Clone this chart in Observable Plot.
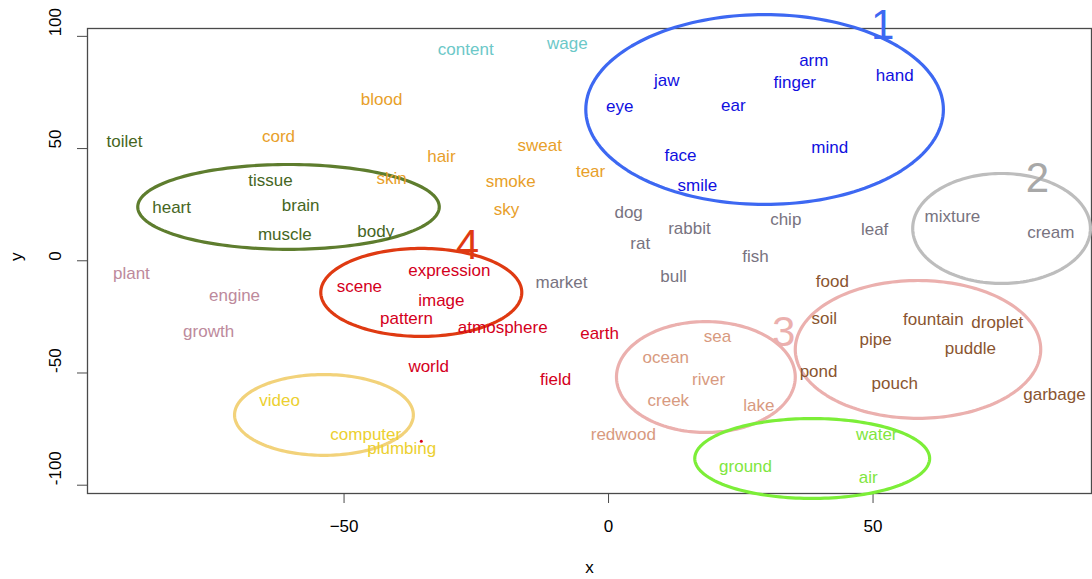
<!DOCTYPE html>
<html>
<head>
<meta charset="utf-8">
<script src="https://cdn.jsdelivr.net/npm/d3@7"></script>
<script src="https://cdn.jsdelivr.net/npm/@observablehq/plot@0.6"></script>
<style>
  html, body { margin: 0; padding: 0; background: #fff; overflow: hidden; }
  #chart svg { display: block; }
</style>
</head>
<body>
<div id="chart"></div>
<script>
// ---- data (word embedding coordinates) ----
const words = ["eye","jaw","ear","arm","finger","hand","face","mind","smile",
  "dog","rabbit","rat","chip","leaf","fish","bull","market","mixture","cream",
  "blood","cord","hair","skin","sweat","smoke","tear","sky",
  "content","wage",
  "toilet","tissue","heart","brain","muscle","body",
  "plant","engine","growth",
  "scene","expression","image","pattern","atmosphere","earth","world","field",
  "video","computer","plumbing",
  "sea","ocean","river","creek","lake","redwood",
  "food","soil","fountain","droplet","pipe","puddle","pond","pouch","garbage",
  "water","ground","air"];
const xs = [2.1,11.0,23.6,38.8,35.2,54.1,13.6,41.8,16.8,
  3.8,15.3,6.0,33.5,50.3,27.8,12.3,-8.9,65.0,83.6,
  -42.9,-62.4,-31.6,-41.0,-13.0,-18.5,-3.4,-19.3,
  -27.0,-7.8,
  -91.5,-63.9,-82.6,-58.2,-61.2,-44.0,
  -90.2,-70.7,-75.6,
  -47.1,-30.1,-31.6,-38.2,-20.0,-1.7,-34.0,-10.0,
  -62.2,-45.9,-39.1,
  20.6,10.8,18.9,11.3,28.4,2.8,
  42.3,40.8,61.4,73.5,50.5,68.4,39.7,54.1,84.3,
  50.7,25.9,49.1];
const ys = [68.7,80.3,69.2,89.2,79.4,82.5,46.9,50.5,33.5,
  21.5,14.4,7.7,18.4,13.9,1.9,-7.0,-9.6,19.7,12.6,
  71.8,55.4,46.4,36.6,51.4,35.4,39.8,22.9,
  94.1,96.6,
  53.1,35.8,23.7,24.6,11.7,13.1,
  -5.7,-15.5,-31.5,
  -11.4,-4.3,-17.7,-25.7,-29.7,-32.4,-47.1,-52.9,
  -62.2,-77.3,-83.6,
  -33.7,-43.1,-52.9,-62.2,-64.4,-77.3,
  -9.2,-25.7,-26.1,-27.5,-35.1,-39.1,-49.3,-54.7,-59.6,
  -77.4,-91.6,-96.5];
const groups = ["body1","body1","body1","body1","body1","body1","body1","body1","body1",
  "animal","animal","animal","animal","animal","animal","animal","animal","animal","animal",
  "fluid","fluid","fluid","fluid","fluid","fluid","fluid","fluid",
  "pay","pay",
  "organ","organ","organ","organ","organ","organ",
  "plant","plant","plant",
  "scene","scene","scene","scene","scene","scene","scene","scene",
  "tech","tech","tech",
  "water1","water1","water1","water1","water1","water1",
  "water2","water2","water2","water2","water2","water2","water2","water2","water2",
  "air","air","air"];
const groupNames  = ["body1","animal","fluid","pay","organ","plant","scene","tech","water1","water2","air"];
const groupColors = ["#1010e0","#78737f","#e8a02a","#6cc8c8","#46661e","#bd8a9c","#d4001c","#ecd030","#d89a80","#8a5530","#7fe640"];

// cluster outlines (centre x, centre y, radius x, radius y in data units)
const ellCx = [29.5, 74.3, -60.5, -35.4, -53.8, 18.4, 58.5, 38.5];
const ellCy = [67.4, 14.4, 24.0, -14.1, -68.7, -51.8, -39.5, -88.1];
const ellRx = [33.8, 16.8, 28.5, 19.0, 16.9, 16.9, 23.2, 22.2];
const ellRy = [42.3, 24.5, 18.9, 19.6, 18.0, 24.7, 30.7, 17.8];
const ellColors = ["#3d68f2","#bdbdbd","#5e7d2e","#df3a12","#f2d27a","#ebb0ae","#ebb0ae","#7cee38"];

// cluster numbers
const numLabels = ["1","2","3","4"];
const numX = [51.8, 81.1, 33.1, -26.7];
const numY = [104.8, 36.7, -31.9, 6.8];
const numColors = ["#3d68f2","#a8a8a8","#ebb0ae","#df3a12"];

// stray point
const dotX = [-35.4], dotY = [-80.4];

const xTicks = [-50, 0, 50];
const yTicks = [-100, -50, 0, 50, 100];

// ---- build tables ----
const pts = words.map((w, i) => ({word: w, x: xs[i], y: ys[i], g: groups[i]}));
const ellPts = [];
ellCx.forEach((cx, k) => {
  for (let j = 0; j <= 180; j++) {
    const t = j / 180 * 2 * Math.PI;
    ellPts.push({k, x: cx + ellRx[k] * Math.cos(t), y: ellCy[k] + ellRy[k] * Math.sin(t)});
  }
});
const nums = numLabels.map((n, i) => ({n, x: numX[i], y: numY[i], c: numColors[i]}));
const dots = dotX.map((x, i) => ({x, y: dotY[i]}));

const font = "Liberation Sans, Arial, Helvetica, sans-serif";

const chart = Plot.plot({
  width: 1092,
  height: 579,
  marginLeft: 87,
  marginRight: 1,
  marginTop: 28,
  marginBottom: 86,
  style: {fontFamily: font, fontSize: "17px", background: "#fff", overflow: "visible"},
  x: {domain: [-98.5, 91.3]},
  y: {domain: [-103.7, 103.5]},
  color: {domain: groupNames, range: groupColors},
  marks: [
    Plot.frame({stroke: "#4a4a4a", strokeWidth: 1.3}),
    Plot.axisX({ticks: xTicks, tickSize: 10, tickPadding: 16, fontSize: 17, label: null, stroke: "#4a4a4a", fill: "#000"}),
    Plot.axisY({ticks: yTicks, tickSize: 10, tickFormat: () => "", label: null, stroke: "#4a4a4a"}),
    Plot.text(yTicks, {y: d => d, text: d => String(d), frameAnchor: "left", dx: -32, rotate: -90, fontSize: 17, fill: "#000"}),
    Plot.text(["x"], {frameAnchor: "bottom", dy: 79, text: d => d, fontSize: 17, fill: "#000"}),
    Plot.text(["y"], {frameAnchor: "left", dx: -71, rotate: -90, text: d => d, fontSize: 17, fill: "#000"}),
    Plot.line(ellPts, {x: "x", y: "y", z: "k", stroke: d => ellColors[d.k], strokeWidth: 3.2, clip: false}),
    Plot.text(pts, {x: "x", y: "y", text: "word", fill: "g", fontSize: 17}),
    Plot.text(nums, {x: "x", y: "y", text: "n", fill: "c", fontSize: 42}),
    Plot.dot(dots, {x: "x", y: "y", r: 1.5, fill: "#d4001c", stroke: null})
  ]
});
document.getElementById("chart").appendChild(chart);
</script>
</body>
</html>
